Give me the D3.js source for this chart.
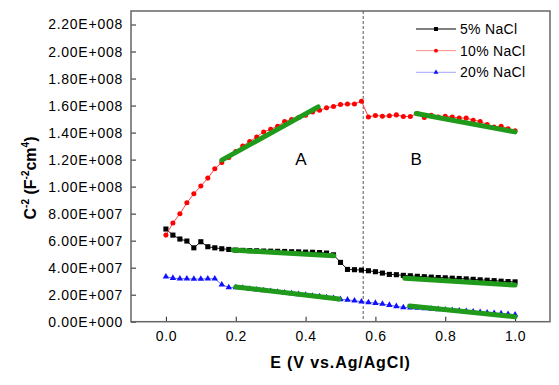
<!DOCTYPE html>
<html>
<head>
    <title>Mott-Schottky</title>
    <script src="https://d3js.org/d3.v7.min.js"></script>
    <style>
        body { margin: 0; background: #fff; }
        svg text { font-family: "Liberation Sans", Arial, sans-serif; fill: #000; }
    </style>
</head>
<body>
<div id="chart"></div>
<script>
    // potential (V vs. Ag/AgCl)
    var potential = [0.00, 0.02, 0.04, 0.06, 0.08, 0.10, 0.12, 0.14, 0.16, 0.18,
                     0.20, 0.22, 0.24, 0.26, 0.28, 0.30, 0.32, 0.34, 0.36, 0.38,
                     0.40, 0.42, 0.44, 0.46, 0.48, 0.50, 0.52, 0.54, 0.56, 0.58,
                     0.60, 0.62, 0.64, 0.66, 0.68, 0.70, 0.72, 0.74, 0.76, 0.78,
                     0.80, 0.82, 0.84, 0.86, 0.88, 0.90, 0.92, 0.94, 0.96, 0.98, 1.00];

    // C^-2 values, in units of 1E+007
    var nacl5 = [6.86, 6.41, 6.12, 5.97, 5.47, 5.92, 5.55, 5.47, 5.40, 5.35,
                 5.30, 5.28, 5.26, 5.25, 5.23, 5.22, 5.21, 5.20, 5.18, 5.17,
                 5.15, 5.14, 5.12, 5.08, 4.95, 4.39, 3.87, 3.85, 3.82, 3.77,
                 3.70, 3.60, 3.50, 3.48, 3.43, 3.40, 3.36, 3.33, 3.30, 3.27,
                 3.25, 3.22, 3.20, 3.17, 3.14, 3.10, 3.07, 3.04, 3.00, 2.97, 2.95];
    var nacl10 = [6.41, 7.30, 7.99, 8.80, 9.47, 10.04, 10.63, 11.32, 11.79, 12.16,
                  12.60, 13.00, 13.34, 13.68, 14.05, 14.25, 14.47, 14.82, 14.97, 15.12,
                  15.29, 15.53, 15.66, 15.83, 15.93, 16.08, 16.12, 16.12, 16.32, 15.16,
                  15.27, 15.21, 15.24, 15.31, 15.19, 15.19, 15.41, 15.12, 15.29, 15.16,
                  15.21, 15.16, 15.07, 15.07, 14.92, 14.82, 14.60, 14.42, 14.47, 14.28, 14.13];
    var nacl20 = [3.33, 3.23, 3.18, 3.18, 3.16, 3.16, 3.18, 3.18, 2.74, 2.54,
                  2.54, 2.49, 2.43, 2.37, 2.32, 2.26, 2.20, 2.15, 2.09, 2.03,
                  1.97, 1.91, 1.86, 1.80, 1.74, 1.66, 1.62, 1.55, 1.48, 1.43,
                  1.38, 1.31, 1.23, 1.14, 1.06, 1.05, 1.02, 0.98, 0.95, 0.92,
                  0.88, 0.85, 0.81, 0.78, 0.74, 0.71, 0.67, 0.63, 0.60, 0.56, 0.52];

    // linear fits: [x1, y1, x2, y2] (y in 1E+007)
    var fits = [
        [0.160, 11.96, 0.436, 15.90],
        [0.717, 15.41, 1.000, 14.05],
        [0.192, 5.30, 0.481, 4.88],
        [0.684, 3.21, 1.000, 2.71],
        [0.200, 2.57, 0.496, 1.68],
        [0.698, 1.16, 1.000, 0.37]
    ];

    var xTicks = [0.0, 0.2, 0.4, 0.6, 0.8, 1.0];
    var yTicks = [0, 2, 4, 6, 8, 10, 12, 14, 16, 18, 20, 22];
    var seriesNames = ["5% NaCl", "10% NaCl", "20% NaCl"];
    var dividerE = 0.565;
    var regionLabels = ["A", "B"];
    var regionE = [0.387, 0.717];
    var regionC = [11.6, 11.6];

    var width = 559, height = 385;
    var plotLeft = 131, plotRight = 550, plotTop = 11, plotBottom = 321.7;

    var svg = d3.select("#chart").append("svg")
        .attr("width", width)
        .attr("height", height);

    var x = d3.scaleLinear().domain([-0.1, 1.1]).range([plotLeft, plotRight]);
    var y = d3.scaleLinear().domain([0, 23]).range([plotBottom, plotTop]);

    // format like 2.20E+008
    function sci(v) {
        if (v === 0) return "0.00E+000";
        var val = v * 1e7;
        var e = Math.floor(Math.log10(val) + 1e-9);
        var m = val / Math.pow(10, e);
        return m.toFixed(2) + "E+" + String(e).padStart(3, "0");
    }

    // axes with inward ticks
    var xAxis = svg.append("g")
        .attr("transform", "translate(0," + plotBottom + ")")
        .call(d3.axisBottom(x).tickValues(xTicks).tickFormat(d3.format(".1f"))
            .tickSizeInner(-5).tickSizeOuter(0).tickPadding(8));
    xAxis.select(".domain").remove();
    xAxis.selectAll(".tick line").attr("stroke", "#222");
    xAxis.selectAll(".tick text")
        .attr("font-size", 14).attr("letter-spacing", 0.6)
        .attr("dy", "0.71em").attr("y", 9);

    var yAxis = svg.append("g")
        .attr("transform", "translate(" + plotLeft + ",0)")
        .call(d3.axisLeft(y).tickValues(yTicks).tickFormat(sci)
            .tickSizeInner(-5).tickSizeOuter(0).tickPadding(8));
    yAxis.select(".domain").remove();
    yAxis.selectAll(".tick line").attr("stroke", "#222");
    yAxis.selectAll(".tick text")
        .attr("font-size", 14).attr("letter-spacing", 0.75)
        .attr("x", -8);

    // frame
    svg.append("rect")
        .attr("x", plotLeft).attr("y", plotTop)
        .attr("width", plotRight - plotLeft).attr("height", plotBottom - plotTop)
        .attr("fill", "none")
        .attr("stroke", "#666")
        .attr("stroke-width", 1.5);

    // dashed divider
    svg.append("line")
        .attr("x1", x(dividerE)).attr("x2", x(dividerE))
        .attr("y1", plotTop).attr("y2", plotBottom)
        .attr("stroke", "#555")
        .attr("stroke-width", 1)
        .attr("stroke-dasharray", "3,2");

    var series = [
        {name: seriesNames[0], values: nacl5, line: "#000", fill: "#000", shape: d3.symbolSquare, size: 26},
        {name: seriesNames[1], values: nacl10, line: "#ff3030", fill: "#ff0000", shape: d3.symbolCircle, size: 20},
        {name: seriesNames[2], values: nacl20, line: "#5a5aff", fill: "#1010ff", shape: d3.symbolTriangle, size: 18}
    ];

    var line = d3.line()
        .x(function (d) { return x(d[0]); })
        .y(function (d) { return y(d[1]); });

    series.forEach(function (s) {
        var pts = potential.map(function (p, i) { return [p, s.values[i]]; });
        svg.append("path")
            .datum(pts)
            .attr("d", line)
            .attr("fill", "none")
            .attr("stroke", s.line)
            .attr("stroke-width", 0.9);
        svg.append("g")
            .selectAll("path")
            .data(pts)
            .enter()
            .append("path")
            .attr("transform", function (d) { return "translate(" + x(d[0]) + "," + y(d[1]) + ")"; })
            .attr("d", d3.symbol().type(s.shape).size(s.size))
            .attr("fill", s.fill);
    });

    // fit lines
    svg.append("g")
        .selectAll("line")
        .data(fits)
        .enter()
        .append("line")
        .attr("x1", function (d) { return x(d[0]); })
        .attr("y1", function (d) { return y(d[1]); })
        .attr("x2", function (d) { return x(d[2]); })
        .attr("y2", function (d) { return y(d[3]); })
        .attr("stroke", "#1f9a1a")
        .attr("stroke-width", 5)
        .attr("stroke-linecap", "round");

    // region labels
    svg.append("g")
        .selectAll("text")
        .data(regionLabels)
        .enter()
        .append("text")
        .attr("x", function (d, i) { return x(regionE[i]); })
        .attr("y", function (d, i) { return y(regionC[i]); })
        .attr("text-anchor", "middle")
        .attr("font-size", 17)
        .text(function (d) { return d; });

    // legend
    var legend = svg.selectAll(".legend")
        .data(series)
        .enter().append("g")
        .attr("class", "legend")
        .attr("transform", function (d, i) { return "translate(416," + (29 + 21.65 * i) + ")"; });

    legend.append("line")
        .attr("x1", 0).attr("x2", 40)
        .attr("stroke", function (d) { return d.line; })
        .attr("stroke-opacity", function (d, i) { return i === 0 ? 1 : 0.55; })
        .attr("stroke-width", 1);
    legend.append("path")
        .attr("transform", "translate(20,0)")
        .attr("d", function (d) { return d3.symbol().type(d.shape).size(d.size * 0.6)(); })
        .attr("fill", function (d) { return d.fill; });
    legend.append("text")
        .attr("x", 44)
        .attr("dy", "0.35em")
        .attr("font-size", 14)
        .attr("letter-spacing", 0.3)
        .text(function (d) { return d.name; });

    // axis titles
    svg.append("text")
        .attr("x", (plotLeft + plotRight) / 2)
        .attr("y", 368)
        .attr("text-anchor", "middle")
        .attr("font-size", 16)
        .attr("font-weight", "bold")
        .attr("letter-spacing", 0.9)
        .text("E (V vs.Ag/AgCl)");

    var yt = svg.append("text")
        .attr("transform", "translate(36,178) rotate(-90)")
        .attr("text-anchor", "middle")
        .attr("font-size", 16)
        .attr("font-weight", "bold");
    yt.append("tspan").text("C");
    yt.append("tspan").attr("font-size", 10).attr("dy", -7).text("-2");
    yt.append("tspan").attr("dy", 7).text(" (F");
    yt.append("tspan").attr("font-size", 10).attr("dy", -7).text("-2");
    yt.append("tspan").attr("dy", 7).text("cm");
    yt.append("tspan").attr("font-size", 10).attr("dy", -7).text("4");
    yt.append("tspan").attr("dy", 7).text(")");
</script>
</body>
</html>
